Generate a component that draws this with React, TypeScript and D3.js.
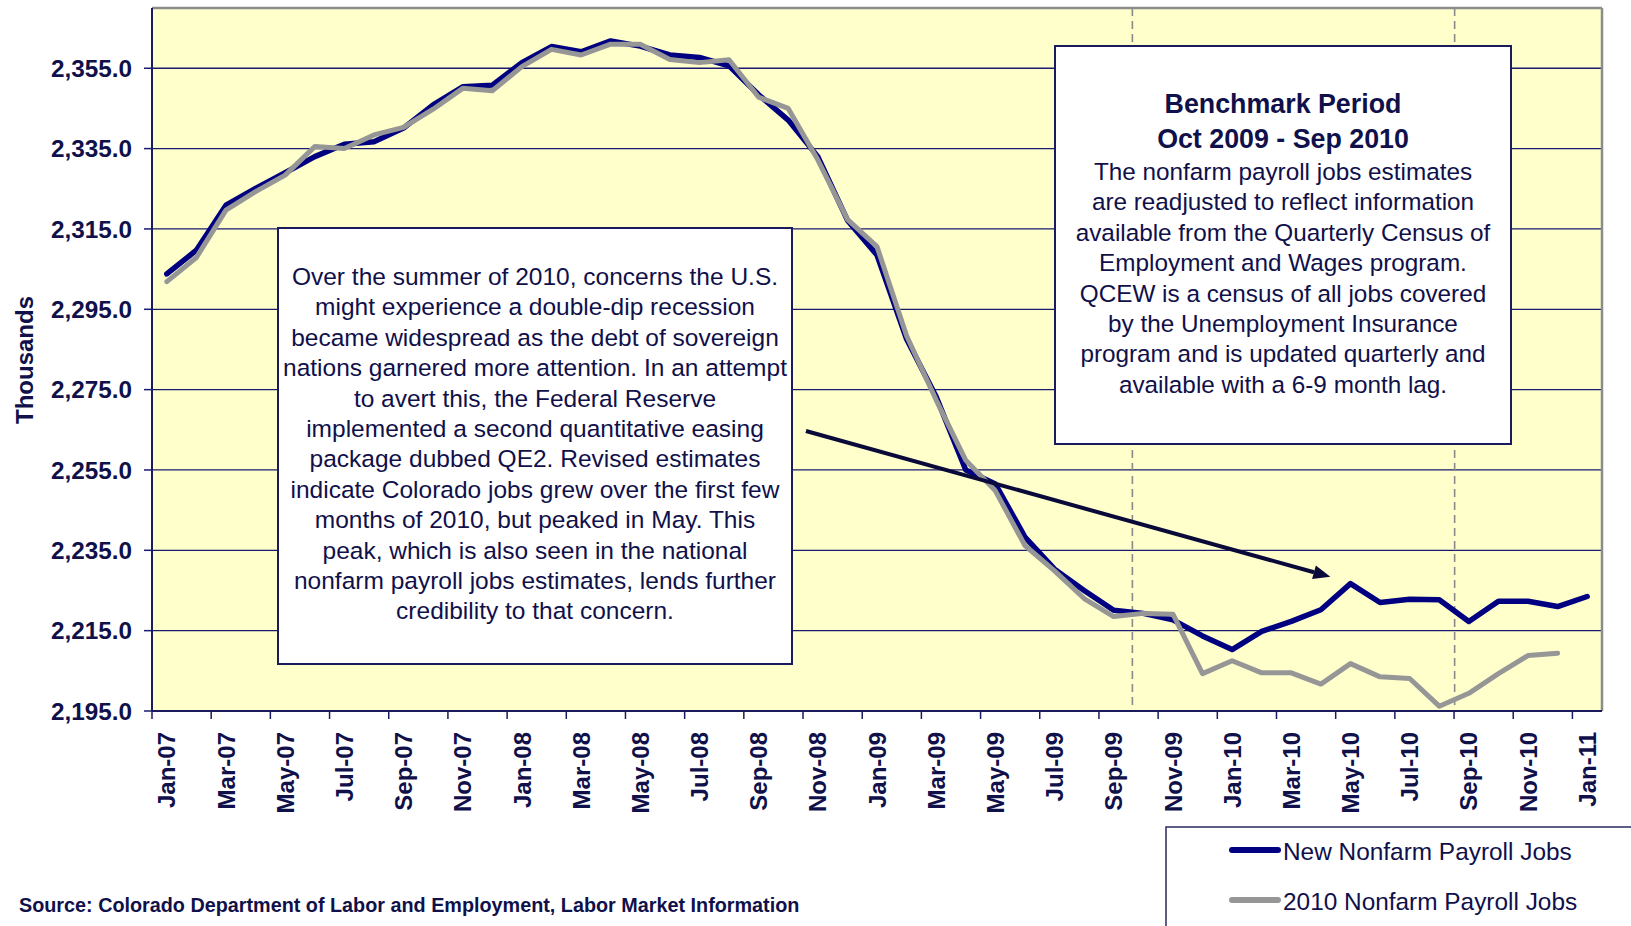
import React from "react";
import { scaleLinear, line, range, format } from "d3";

// month categories (Jan-07 .. Jan-11)
const months = [
  "Jan-07", "Feb-07", "Mar-07", "Apr-07", "May-07", "Jun-07", "Jul-07", "Aug-07", "Sep-07", "Oct-07", "Nov-07", "Dec-07",
  "Jan-08", "Feb-08", "Mar-08", "Apr-08", "May-08", "Jun-08", "Jul-08", "Aug-08", "Sep-08", "Oct-08", "Nov-08", "Dec-08",
  "Jan-09", "Feb-09", "Mar-09", "Apr-09", "May-09", "Jun-09", "Jul-09", "Aug-09", "Sep-09", "Oct-09", "Nov-09", "Dec-09",
  "Jan-10", "Feb-10", "Mar-10", "Apr-10", "May-10", "Jun-10", "Jul-10", "Aug-10", "Sep-10", "Oct-10", "Nov-10", "Dec-10",
  "Jan-11",
];

// New Nonfarm Payroll Jobs (thousands)
const newJobs = [
  2303.8, 2309.7, 2320.9, 2325.1, 2329.0, 2333.0, 2336.1, 2336.7, 2340.1, 2345.9, 2350.4, 2350.8,
  2356.4, 2360.4, 2359.1, 2361.8, 2360.5, 2358.3, 2357.7, 2355.6, 2348.4, 2342.1, 2333.0, 2317.2,
  2308.5, 2287.6, 2273.2, 2255.0, 2251.5, 2238.3, 2230.3, 2225.0, 2220.1, 2219.3, 2217.7, 2213.7,
  2210.3, 2214.8, 2217.3, 2220.2, 2226.7, 2222.0, 2222.8, 2222.7, 2217.3, 2222.3, 2222.3, 2221.0,
  2223.5,
];

// 2010 Nonfarm Payroll Jobs (thousands), ends Dec-10
const oldJobs = [
  2301.9, 2307.9, 2319.7, 2324.3, 2328.4, 2335.5, 2335.0, 2338.4, 2340.3, 2344.8, 2350.0, 2349.4,
  2355.4, 2359.7, 2358.3, 2361.0, 2361.0, 2357.2, 2356.4, 2357.1, 2347.8, 2345.0, 2332.2, 2317.4,
  2310.6, 2288.4, 2272.4, 2257.4, 2249.8, 2236.2, 2229.9, 2223.0, 2218.5, 2219.3, 2219.1, 2204.3,
  2207.5, 2204.5, 2204.5, 2201.7, 2206.8, 2203.5, 2203.1, 2196.2, 2199.4, 2204.3, 2208.8, 2209.4,
];

const yTicks = range(2195, 2356, 20);
// benchmark period markers, in category units
const benchmarkLines = [33.13, 44.02];

const leftNote = [
  "Over the summer of 2010, concerns the U.S.",
  "might experience a double-dip recession",
  "became widespread as the debt of sovereign",
  "nations garnered more attention. In an attempt",
  "to avert this, the Federal Reserve",
  "implemented a second quantitative easing",
  "package dubbed QE2. Revised estimates",
  "indicate Colorado jobs grew over the first few",
  "months of 2010, but peaked in May. This",
  "peak, which is also seen in the national",
  "nonfarm payroll jobs estimates, lends further",
  "credibility to that concern.",
];
const noteTitle = ["Benchmark Period", "Oct 2009 - Sep 2010"];
const noteBody = [
  "The nonfarm payroll jobs estimates",
  "are readjusted to reflect information",
  "available from the Quarterly Census of",
  "Employment and Wages program.",
  "QCEW is a census of all jobs covered",
  "by the Unemployment Insurance",
  "program and is updated quarterly and",
  "available with a 6-9 month lag.",
];

const FONT = "'Liberation Sans', Arial, sans-serif";
const TXT = "#10104a";
const NAVY = "#000080";
const GRAY = "#969696";

export default function App() {
  const width = 1631;
  const height = 926;
  const left = 152, right = 1602, top = 8, bottom = 711;

  const x = scaleLinear().domain([0, months.length]).range([left, right]);
  const y = scaleLinear().domain([2195, 2370]).range([bottom, top]);
  const cx = (i) => x(i + 0.5);

  const path = line()
    .x((d, i) => cx(i))
    .y((d) => y(d));

  const fmt = format(",.1f");

  // arrow from note to May-10 peak
  const ax1 = cx(21.6), ay1 = y(2264.7);
  const ax2 = cx(39.32), ay2 = y(2228.4);
  const ang = Math.atan2(ay2 - ay1, ax2 - ax1);
  const hl = 17, hw = 7;
  const bx = ax2 - hl * Math.cos(ang), by = ay2 - hl * Math.sin(ang);
  const head = [
    [ax2, ay2],
    [bx + hw * Math.sin(ang), by - hw * Math.cos(ang)],
    [bx - hw * Math.sin(ang), by + hw * Math.cos(ang)],
  ];

  return (
    <svg
      width={width}
      height={height}
      style={{ position: "absolute", left: 0, top: 0, background: "#fff" }}
      fontFamily={FONT}
    >
      {/* plot background */}
      <rect x={left} y={top} width={right - left} height={bottom - top} fill="#ffffcc" />

      {/* gridlines + y labels */}
      {yTicks.map((t) => (
        <g key={t}>
          {t !== 2195 && (
            <line x1={left} x2={right} y1={y(t)} y2={y(t)} stroke="#1a1a6e" strokeWidth={1.3} />
          )}
          <line x1={left - 8} x2={left} y1={y(t)} y2={y(t)} stroke="#1a1a6e" strokeWidth={1.5} />
          <text
            x={132}
            y={y(t)}
            dy="0.36em"
            textAnchor="end"
            fontSize={24.3}
            fontWeight="bold"
            fill={TXT}
          >
            {fmt(t)}
          </text>
        </g>
      ))}

      {/* benchmark dashed lines */}
      {benchmarkLines.map((b, i) => (
        <line
          key={i}
          x1={x(b)}
          x2={x(b)}
          y1={top}
          y2={bottom}
          stroke="#8a8a8a"
          strokeWidth={1.6}
          strokeDasharray="8,5"
        />
      ))}

      {/* plot frame */}
      <line x1={left} x2={right} y1={top} y2={top} stroke="#8c8c8c" strokeWidth={2.5} />
      <line x1={right} x2={right} y1={top} y2={bottom} stroke="#8c8c8c" strokeWidth={2.5} />
      <line x1={left} x2={left} y1={top} y2={bottom} stroke="#1a1a5e" strokeWidth={2} />
      <line x1={left} x2={right} y1={bottom} y2={bottom} stroke="#1a1a5e" strokeWidth={2} />

      {/* x ticks + labels */}
      {months.map((m, i) =>
        i % 2 === 0 ? (
          <g key={m}>
            <line x1={x(i)} x2={x(i)} y1={bottom} y2={bottom + 8} stroke="#1a1a5e" strokeWidth={1.5} />
            <text
              transform={`translate(${cx(i)},${bottom + 21}) rotate(-90)`}
              dy="0.36em"
              textAnchor="end"
              fontSize={24}
              fontWeight="bold"
              fill={TXT}
            >
              {m}
            </text>
          </g>
        ) : null
      )}

      {/* series */}
      <path d={path(newJobs)} fill="none" stroke={NAVY} strokeWidth={5.5} strokeLinejoin="round" strokeLinecap="round" />
      <path d={path(oldJobs)} fill="none" stroke={GRAY} strokeWidth={5} strokeLinejoin="round" strokeLinecap="round" />

      {/* left note */}
      <rect x={278} y={228} width={514} height={436} fill="#fff" stroke="#1a1a5e" strokeWidth={2} />
      {leftNote.map((s, i) => (
        <text key={i} x={535} y={285 + i * 30.4} textAnchor="middle" fontSize={24.5} fill={TXT}>
          {s}
        </text>
      ))}

      {/* benchmark note */}
      <rect x={1055} y={46} width={456} height={398} fill="#fff" stroke="#1a1a5e" strokeWidth={2} />
      {noteTitle.map((s, i) => (
        <text key={i} x={1283} y={113 + i * 35} textAnchor="middle" fontSize={26.8} fontWeight="bold" fill={TXT}>
          {s}
        </text>
      ))}
      {noteBody.map((s, i) => (
        <text key={i} x={1283} y={180 + i * 30.4} textAnchor="middle" fontSize={24.3} fill={TXT}>
          {s}
        </text>
      ))}

      {/* arrow */}
      <line x1={ax1} y1={ay1} x2={bx} y2={by} stroke="#0a0a3a" strokeWidth={4} />
      <polygon points={head.map((p) => p.join(",")).join(" ")} fill="#0a0a3a" />

      {/* y axis title */}
      <text
        transform="translate(24,360) rotate(-90)"
        dy="0.36em"
        textAnchor="middle"
        fontSize={24}
        fontWeight="bold"
        fill={TXT}
      >
        Thousands
      </text>

      {/* legend */}
      <rect x={1166} y={827} width={480} height={120} fill="#fff" stroke="#2a2a5e" strokeWidth={1.5} />
      <line x1={1232} x2={1278} y1={850} y2={850} stroke={NAVY} strokeWidth={6} strokeLinecap="round" />
      <text x={1283} y={860} fontSize={24.4} fill={TXT}>New Nonfarm Payroll Jobs</text>
      <line x1={1232} x2={1278} y1={900} y2={900} stroke={GRAY} strokeWidth={6} strokeLinecap="round" />
      <text x={1283} y={910} fontSize={24.4} fill={TXT}>2010 Nonfarm Payroll Jobs</text>

      {/* source */}
      <text x={19} y={912} fontSize={19.8} fontWeight="bold" fill={TXT}>
        Source: Colorado Department of Labor and Employment, Labor Market Information
      </text>
    </svg>
  );
}
